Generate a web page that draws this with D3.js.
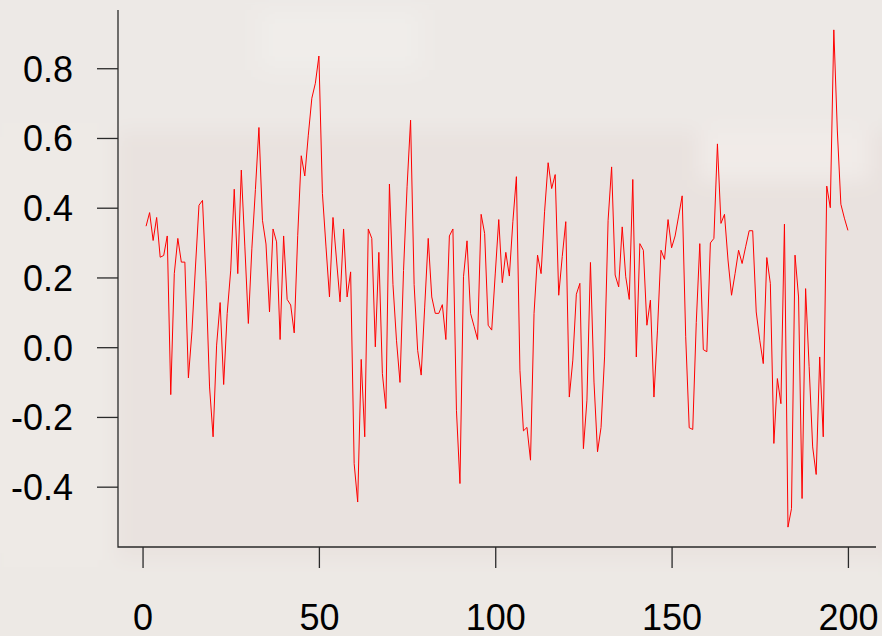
<!DOCTYPE html>
<html>
<head>
<meta charset="utf-8">
<script src="https://cdn.jsdelivr.net/npm/d3@7"></script>
<style>
  html, body { margin: 0; padding: 0; background: #ece6e3; }
  svg { display: block; }
</style>
</head>
<body>
<div id="chart"></div>
<script>
// series, one value per index 1..200
const values = [
  0.347, 0.386, 0.306, 0.372, 0.258, 0.263, 0.319, -0.136, 0.211, 0.312,
  0.244, 0.244, -0.088, 0.044, 0.230, 0.407, 0.421, 0.192, -0.114, -0.257,
  0.006, 0.128, -0.107, 0.097, 0.221, 0.453, 0.211, 0.508, 0.290, 0.068,
  0.284, 0.452, 0.630, 0.364, 0.296, 0.101, 0.339, 0.302, 0.022, 0.319,
  0.137, 0.121, 0.041, 0.321, 0.549, 0.491, 0.608, 0.714, 0.757, 0.835,
  0.441, 0.290, 0.144, 0.372, 0.250, 0.130, 0.339, 0.144, 0.216, -0.334,
  -0.444, -0.035, -0.257, 0.339, 0.312, 0.001, 0.272, -0.076, -0.176, 0.468,
  0.180, 0.020, -0.101, 0.220, 0.460, 0.651, 0.180, -0.009, -0.080, 0.115,
  0.312, 0.144, 0.097, 0.097, 0.122, 0.022, 0.319, 0.339, -0.181, -0.391,
  0.202, 0.305, 0.097, 0.060, 0.022, 0.381, 0.326, 0.063, 0.049, 0.210,
  0.366, 0.185, 0.272, 0.204, 0.360, 0.489, -0.066, -0.240, -0.230, -0.324,
  0.097, 0.264, 0.211, 0.390, 0.529, 0.455, 0.495, 0.149, 0.260, 0.360,
  -0.143, -0.037, 0.152, 0.183, -0.291, -0.152, 0.243, -0.100, -0.300, -0.230,
  -0.028, 0.364, 0.517, 0.207, 0.173, 0.345, 0.202, 0.137, 0.481, -0.028,
  0.297, 0.278, 0.063, 0.135, -0.143, 0.049, 0.278, 0.252, 0.366, 0.285,
  0.319, 0.376, 0.434, 0.030, -0.231, -0.236, 0.071, 0.297, -0.007, -0.013,
  0.299, 0.312, 0.583, 0.355, 0.381, 0.250, 0.149, 0.211, 0.278, 0.240,
  0.288, 0.334, 0.334, 0.101, 0.020, -0.047, 0.257, 0.183, -0.276, -0.090,
  -0.162, 0.353, -0.516, -0.463, 0.264, 0.144, -0.434, 0.168, -0.056, -0.286,
  -0.365, -0.028, -0.257, 0.462, 0.400, 0.910, 0.620, 0.410, 0.370, 0.335
];
const xTicks = [0, 50, 100, 150, 200];
const yTicks = [-0.4, -0.2, 0.0, 0.2, 0.4, 0.6, 0.8];

const width = 882, height = 636;
const margin = { top: 10, right: 6, bottom: 89, left: 118 };

const svg = d3.select("#chart")
  .append("svg")
  .attr("width", width)
  .attr("height", height);

// soft blotchy background like the source
const defs = svg.append("defs");
defs.append("filter").attr("id", "blur")
  .append("feGaussianBlur").attr("stdDeviation", 10);

const bg = svg.append("g").attr("filter", "url(#blur)");
bg.append("rect").attr("x", -20).attr("y", -20).attr("width", width + 40).attr("height", height + 40).attr("fill", "#e9e2df");
bg.append("rect").attr("x", -20).attr("y", -20).attr("width", 135).attr("height", height + 40).attr("fill", "#eeeae6");
bg.append("rect").attr("x", -20).attr("y", -20).attr("width", width + 40).attr("height", 150).attr("fill", "#ede9e6");
bg.append("rect").attr("x", -20).attr("y", 560).attr("width", width + 40).attr("height", 100).attr("fill", "#ede9e5");
bg.append("rect").attr("x", 260).attr("y", 10).attr("width", 160).attr("height", 60).attr("fill", "#f0edea");
bg.append("rect").attr("x", 700).attr("y", 130).attr("width", 170).attr("height", 50).attr("fill", "#f1ebe8");

const x = d3.scaleLinear()
  .domain([-6.96, 207.96])
  .range([margin.left, width - margin.right]);

const y = d3.scaleLinear()
  .domain([-0.573, 0.967])
  .range([height - margin.bottom, margin.top]);

const fontFamily = "'Liberation Sans', Arial, Helvetica, sans-serif";

// x axis
const gx = svg.append("g")
  .attr("transform", `translate(0,${y.range()[0]})`)
  .call(d3.axisBottom(x).tickValues(xTicks).tickSize(21).tickFormat(d => String(d)));
gx.select(".domain").remove();
gx.selectAll(".tick line").attr("stroke", "#2a2a2a").attr("stroke-width", 1.3);
gx.selectAll(".tick text")
  .attr("y", 83).attr("dy", null)
  .style("font-family", fontFamily).style("font-size", "36px").attr("fill", "#000");

// y axis
const gy = svg.append("g")
  .attr("transform", `translate(${x.range()[0]},0)`)
  .call(d3.axisLeft(y).tickValues(yTicks).tickSize(21).tickPadding(24).tickFormat(d => d.toFixed(1)));
gy.select(".domain").remove();
gy.selectAll(".tick line").attr("stroke", "#2a2a2a").attr("stroke-width", 1.3);
gy.selectAll(".tick text")
  .attr("dy", "0.36em")
  .style("font-family", fontFamily).style("font-size", "36px").attr("fill", "#000");

// L-shaped box
svg.append("path")
  .attr("d", `M${x.range()[0]},${y.range()[1]}V${y.range()[0]}H${x.range()[1]}`)
  .attr("fill", "none")
  .attr("stroke", "#2a2a2a")
  .attr("stroke-width", 1.3);

// the series
const line = d3.line()
  .x((d, i) => x(i + 1))
  .y(d => y(d));

svg.append("path")
  .datum(values)
  .attr("d", line)
  .attr("fill", "none")
  .attr("stroke", "#ff0000")
  .attr("stroke-width", 1)
  .attr("stroke-linejoin", "miter");
</script>
</body>
</html>
